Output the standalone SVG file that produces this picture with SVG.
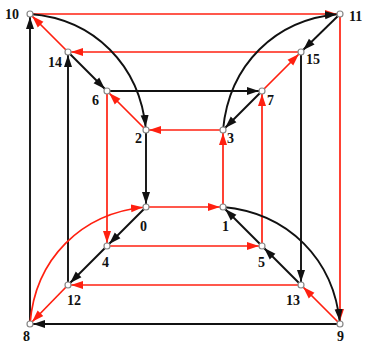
<svg xmlns="http://www.w3.org/2000/svg" width="365" height="344" viewBox="0 0 365 344">
<style>
.r{stroke:#ff2010;stroke-width:1.7;fill:none}
.k{stroke:#111;stroke-width:1.9;fill:none}
.r.a{marker-end:url(#ar)}
.k.a{marker-end:url(#ak)}
.n circle{fill:#fff;stroke:#888;stroke-width:1.2}
.n text{font-family:"Liberation Serif","Times New Roman",serif;font-weight:bold;font-size:14px;fill:#111}
</style>
<defs>
<marker id="ar" markerUnits="userSpaceOnUse" markerWidth="16" markerHeight="10" refX="15" refY="4" orient="auto" viewBox="0 0 16 8">
<path d="M0,0 L12,4 L0,8 z" fill="#ff2010"/>
</marker>
<marker id="ak" markerUnits="userSpaceOnUse" markerWidth="16" markerHeight="10" refX="15" refY="4" orient="auto" viewBox="0 0 16 8">
<path d="M0,0 L12,4 L0,8 z" fill="#111"/>
</marker>
</defs>
<rect width="365" height="344" fill="#fff"/>
<g id="connectors">
<line class="r a" x1="30" y1="14" x2="340" y2="14"/>
<line class="r a" x1="340" y1="14" x2="340" y2="324"/>
<line class="k a" x1="340" y1="324" x2="30" y2="324"/>
<line class="k a" x1="30" y1="324" x2="30" y2="14"/>
<line class="r a" x1="301" y1="52" x2="68" y2="52"/>
<line class="k a" x1="301" y1="52" x2="301" y2="285"/>
<line class="r a" x1="301" y1="285" x2="68" y2="285"/>
<line class="k a" x1="68" y1="285" x2="68" y2="52"/>
<line class="k a" x1="107" y1="91" x2="262" y2="91"/>
<line class="r a" x1="262" y1="246" x2="262" y2="91"/>
<line class="r a" x1="107" y1="246" x2="262" y2="246"/>
<line class="r a" x1="107" y1="91" x2="107" y2="246"/>
<line class="r a" x1="223" y1="130" x2="146" y2="130"/>
<line class="r a" x1="223" y1="207" x2="223" y2="130"/>
<line class="r a" x1="146" y1="207" x2="223" y2="207"/>
<line class="k a" x1="146" y1="130" x2="146" y2="207"/>
<line class="r a" x1="68" y1="52" x2="30" y2="14"/>
<line class="k a" x1="68" y1="52" x2="107" y2="91"/>
<line class="r a" x1="146" y1="130" x2="107" y2="91"/>
<line class="k a" x1="340" y1="14" x2="301" y2="52"/>
<line class="r a" x1="262" y1="91" x2="301" y2="52"/>
<line class="k a" x1="262" y1="91" x2="223" y2="130"/>
<line class="k a" x1="146" y1="207" x2="107" y2="246"/>
<line class="k a" x1="107" y1="246" x2="68" y2="285"/>
<line class="r a" x1="68" y1="285" x2="30" y2="324"/>
<line class="k a" x1="262" y1="246" x2="223" y2="207"/>
<line class="k a" x1="301" y1="285" x2="262" y2="246"/>
<line class="r a" x1="340" y1="324" x2="301" y2="285"/>
<path class="k a" d="M30,14 C94,19 140,65 146,130"/>
<path class="k a" d="M223,130 C229,65 275,19 340,14"/>
<path class="r a" d="M30,324 C35,259 81,213 146,207"/>
<path class="k a" d="M223,207 C288,213 334,259 340,324"/>
</g>
<g id="n0" class="n"><circle cx="146" cy="207" r="3"/><text x="140" y="231">0</text></g>
<g id="n1" class="n"><circle cx="223" cy="207" r="3"/><text x="222" y="231">1</text></g>
<g id="n2" class="n"><circle cx="146" cy="130" r="3"/><text x="135" y="143">2</text></g>
<g id="n3" class="n"><circle cx="223" cy="130" r="3"/><text x="227" y="143">3</text></g>
<g id="n4" class="n"><circle cx="107" cy="246" r="3"/><text x="102" y="267">4</text></g>
<g id="n5" class="n"><circle cx="262" cy="246" r="3"/><text x="258" y="267">5</text></g>
<g id="n6" class="n"><circle cx="107" cy="91" r="3"/><text x="92" y="105">6</text></g>
<g id="n7" class="n"><circle cx="262" cy="91" r="3"/><text x="267" y="105">7</text></g>
<g id="n8" class="n"><circle cx="30" cy="324" r="3"/><text x="23" y="341">8</text></g>
<g id="n9" class="n"><circle cx="340" cy="324" r="3"/><text x="337" y="341">9</text></g>
<g id="n10" class="n"><circle cx="30" cy="14" r="3"/><text x="5" y="19">10</text></g>
<g id="n11" class="n"><circle cx="340" cy="14" r="3"/><text x="349" y="21">11</text></g>
<g id="n12" class="n"><circle cx="68" cy="285" r="3"/><text x="67" y="305">12</text></g>
<g id="n13" class="n"><circle cx="301" cy="285" r="3"/><text x="286" y="305">13</text></g>
<g id="n14" class="n"><circle cx="68" cy="52" r="3"/><text x="48" y="67">14</text></g>
<g id="n15" class="n"><circle cx="301" cy="52" r="3"/><text x="306" y="64">15</text></g>
</svg>
